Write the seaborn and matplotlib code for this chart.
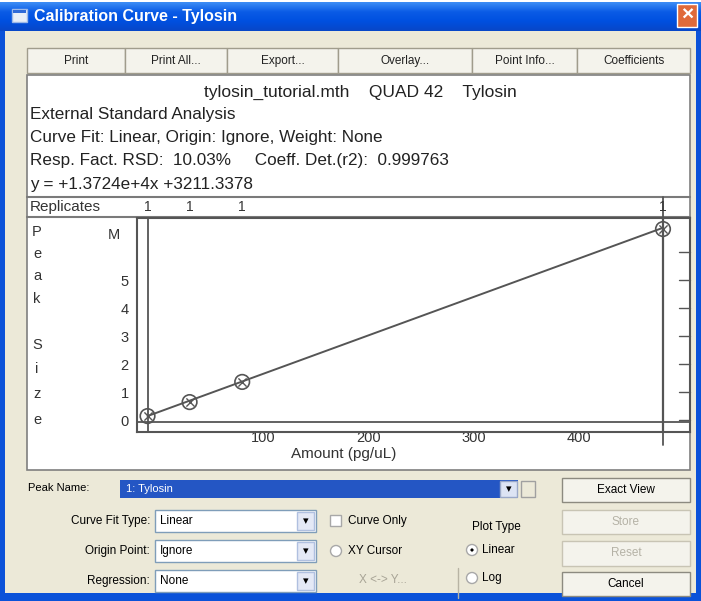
import numpy as np
import pandas as pd
import matplotlib
matplotlib.use("Agg")
import matplotlib.pyplot as plt
import matplotlib.transforms as mtransforms
import seaborn as sns
from matplotlib.patches import Rectangle, Circle

# ---------------- data ----------------
amounts = [10, 50, 100, 500]                      # pg/uL
responses = [0.14e6, 0.64e6, 1.36e6, 6.82e6]      # peak size
replicates = ["1", "1", "1", "1"]
slope = 1.3724e4
intercept = 3211.3378
x_ticks = [100, 200, 300, 400]
x_tick_labels = ["100", "200", "300", "400"]
y_ticks = [0, 1e6, 2e6, 3e6, 4e6, 5e6, 6e6]
y_tick_labels = ["0", "1", "2", "3", "4", "5", ""]
header_line = "tylosin_tutorial.mth    QUAD 42    Tylosin"
info_lines = [
    "External Standard Analysis",
    "Curve Fit: Linear, Origin: Ignore, Weight: None",
    "Resp. Fact. RSD:  10.03%     Coeff. Det.(r2):  0.999763",
    "y = +1.3724e+4x +3211.3378",
]
toolbar_buttons = ["Print", "Print All...", "Export...", "Overlay...", "Point Info...", "Coefficients"]
y_label_letters = ["P", "e", "a", "k", "S", "i", "z", "e"]

df = pd.DataFrame({"amount": amounts, "response": responses})
fit_df = pd.DataFrame({"amount": amounts,
                       "fit": [slope * a + intercept for a in amounts]})

# ---------------- style ----------------
sns.set_theme(style="white")
plt.rcParams["font.family"] = ["Liberation Sans", "DejaVu Sans"]

W, H = 701, 601
fig = plt.figure(figsize=(W / 100, H / 100), dpi=100)
fig.patch.set_facecolor("#ECE9D8")

bg = fig.add_axes([0, 0, 1, 1], zorder=0)
bg.set_xlim(0, W)
bg.set_ylim(H, 0)
bg.axis("off")


def rect(x0, y0, x1, y1, fc, ec="none", lw=1.0, z=1):
    bg.add_patch(Rectangle((x0, y0), x1 - x0, y1 - y0, facecolor=fc,
                           edgecolor=ec, linewidth=lw, zorder=z))


def txt(x, y, s, size=9, color="black", ha="left", weight="normal", z=5):
    bg.text(x, y, s, fontsize=size, color=color, ha=ha, va="center",
            fontweight=weight, zorder=z)


# window frame (blue)
rect(0, 0, W, H, "#FFFFFF", z=0)
rect(0, 2, W, H, "#0B52D9", z=0)
rect(5, 31, W - 5, H - 8, "#ECE9D8", z=0.5)
# title bar gradient
grad = np.linspace(0, 1, 30).reshape(-1, 1)
bg.imshow(grad, extent=(0, W, 31, 2), cmap=matplotlib.colors.LinearSegmentedColormap.from_list(
    "tb", ["#3C8CF5", "#0A5BE6", "#0050E0", "#0847C8"]), aspect="auto", zorder=0.6)
rect(12, 9, 27, 22, "#E8EEF8", ec="#9CB8E8", z=2)
rect(13, 10, 26, 13, "#2F6AD8", z=2.1)
txt(34, 16, "Calibration Curve - Tylosin", size=11.5, color="white", weight="bold")
rect(677, 4, 697, 27, "#E06A3A", ec="white", lw=1.0, z=2)
txt(687, 15.5, "×", size=15, color="white", ha="center", weight="bold")

# toolbar buttons
btn_edges = [27, 125, 227, 338, 472, 577, 690]
for i, name in enumerate(toolbar_buttons):
    x0, x1 = btn_edges[i], btn_edges[i + 1]
    rect(x0, 48, x1, 73, "#F4F3EC", ec="#A09C8C", lw=1.0, z=1)
    txt((x0 + x1) / 2, 61, name, size=8.5, ha="center", color="#222222")

# white info / plot panel
rect(27, 75, 690, 470, "white", ec="#7F7F7F", lw=1.2, z=1)
txt(360, 92, header_line, size=12.5, ha="center", color="#222222")
for i, line in enumerate(info_lines):
    txt(30, 114 + i * 23.5, line, size=12.3, color="#222222")
bg.plot([27, 690], [197, 197], color="#7A7A7A", lw=1.5, zorder=3)
bg.plot([27, 690], [217, 217], color="#7A7A7A", lw=1.5, zorder=3)
txt(30, 207, "Replicates", size=11, color="#333333")

# y label letters
letter_y = [232, 254, 276, 299, 345, 369, 394, 420]
for ch, yy in zip(y_label_letters, letter_y):
    txt(37, yy, ch, size=10.5, color="#333333", ha="center")

# ---------------- plot axes ----------------
L, R, T, B = 137, 690, 218, 432
ax = fig.add_axes([L / W, 1 - B / H, (R - L) / W, (B - T) / H], zorder=2)
ax.set_facecolor("white")
x_lo, x_hi = 0, (R - L) / 1.052
y_lo, y_hi = -(B - 420) / 28 * 1e6, (420 - T) / 28 * 1e6
ax.set_xlim(x_lo, x_hi)
ax.set_ylim(y_lo, y_hi)

# limit lines at lowest / highest calibration level
ax.axvline(amounts[0], color="#555555", lw=1.3, zorder=1)
ax.axvline(amounts[-1], color="#555555", lw=1.6, zorder=1)
ax.axhline(-0.07e6, color="#555555", lw=1.3, zorder=1)

sns.lineplot(data=fit_df, x="amount", y="fit", ax=ax, color="#555555",
             lw=1.4, zorder=3)
sns.scatterplot(data=df, x="amount", y="response", ax=ax, s=110,
                marker="o", facecolor="none", edgecolor="#555555",
                linewidth=1.2, zorder=4)
sns.scatterplot(data=df, x="amount", y="response", ax=ax, s=35,
                marker="x", color="#555555", linewidth=1.0, zorder=4)

ax.set_xlabel("")
ax.set_ylabel("")
ax.set_xticks(x_ticks)
ax.set_xticklabels(x_tick_labels)
ax.set_yticks(y_ticks)
ax.set_yticklabels(y_tick_labels)
for sp in ax.spines.values():
    sp.set_color("#555555")
    sp.set_linewidth(1.5)
ax.tick_params(axis="x", direction="out", length=10, width=1.0, color="#555555",
               labelsize=10.5, labelcolor="#333333", pad=-11)
shift = mtransforms.ScaledTranslation(0.09, 0, fig.dpi_scale_trans)
for lab in ax.get_xticklabels():
    lab.set_horizontalalignment("left")
    lab.set_transform(lab.get_transform() + shift)
ax.tick_params(axis="y", direction="out", length=10, width=1.0, color="#555555",
               labelsize=10.5, labelcolor="#333333", pad=-4, right=False)
# inward ticks on the right side
for yt in y_ticks:
    ax.plot([x_hi - 11 / 1.052, x_hi], [yt, yt], color="#555555", lw=1.0,
            clip_on=False, zorder=2)
ax.plot([amounts[-1], amounts[-1]], [y_lo, y_lo - 0.45e6], color="#555555",
        lw=1.3, clip_on=False)
ax.text(-0.03, 6.6e6, "M", transform=ax.get_yaxis_transform(), ha="right",
        va="center", fontsize=10.5, color="#333333")

# replicate counts above the plot
for a, rep in zip(amounts, replicates):
    bg.text(L + a * 1.052, 207, rep, fontsize=10, color="#333333",
            ha="center", va="center", zorder=5)
bg.plot([L + amounts[-1] * 1.052] * 2, [197, 217], color="#555555", lw=1.3, zorder=4)

txt(344, 454, "Amount (pg/uL)", size=11, color="#333333", ha="center")

# ---------------- bottom controls ----------------
txt(28, 488, "Peak Name:", size=8)
rect(120, 480, 518, 498, "#2456C4", z=1)
txt(126, 489, "1: Tylosin", size=8, color="white")
rect(500, 481, 517, 497, "#DDE4F4", ec="#9AA8C8", z=2)
txt(508.5, 489, "▾", size=8, ha="center")
rect(521, 481, 535, 497, "#ECE9D8", ec="#A0A0A0", z=2)


def button(x0, y0, x1, y1, label, enabled=True):
    rect(x0, y0, x1, y1, "#F4F3EC", ec="#8C8A80" if enabled else "#C8C4B4", lw=1.0, z=2)
    txt((x0 + x1) / 2, (y0 + y1) / 2, label, size=8.5,
        color="black" if enabled else "#B5B2A6", ha="center")


button(562, 478, 690, 502, "Exact View")
button(562, 510, 690, 534, "Store", enabled=False)
button(562, 541, 690, 566, "Reset", enabled=False)
button(562, 572, 690, 596, "Cancel")

rows = [("Curve Fit Type:", "Linear", 521), ("Origin Point:", "Ignore", 551),
        ("Regression:", "None", 581)]
for lab, val, yy in rows:
    txt(150, yy, lab, size=8.5, ha="right")
    rect(155, yy - 11, 316, yy + 11, "white", ec="#7F9DB9", z=2)
    txt(160, yy, val, size=8.5)
    rect(297, yy - 9, 314, yy + 9, "#E4E9F6", ec="#B0C0E0", z=3)
    txt(305.5, yy, "▾", size=8, ha="center", z=6)

# check boxes
rect(330, 515, 341, 526, "white", ec="#A8A8A8", z=2)
txt(348, 521, "Curve Only", size=8.5)
bg.add_patch(Circle((336, 551), 5.5, facecolor="white", edgecolor="#A8A8A8", zorder=2))
txt(348, 551, "XY Cursor", size=8.5)
txt(383, 580, "X <-> Y...", size=8.5, color="#A8A496", ha="center")
bg.plot([458, 458], [568, 598], color="#B8B4A4", lw=1.0, zorder=2)

# plot type group
txt(472, 527, "Plot Type", size=8.5)
bg.add_patch(Circle((472, 550), 5.5, facecolor="white", edgecolor="#A8A8A8", zorder=2))
bg.add_patch(Circle((472, 550), 2.3, facecolor="black", zorder=3))
txt(482, 550, "Linear", size=8.5)
bg.add_patch(Circle((472, 578), 5.5, facecolor="white", edgecolor="#A8A8A8", zorder=2))
txt(482, 578, "Log", size=8.5)

fig.savefig("out.png", dpi=100, facecolor=fig.get_facecolor())
